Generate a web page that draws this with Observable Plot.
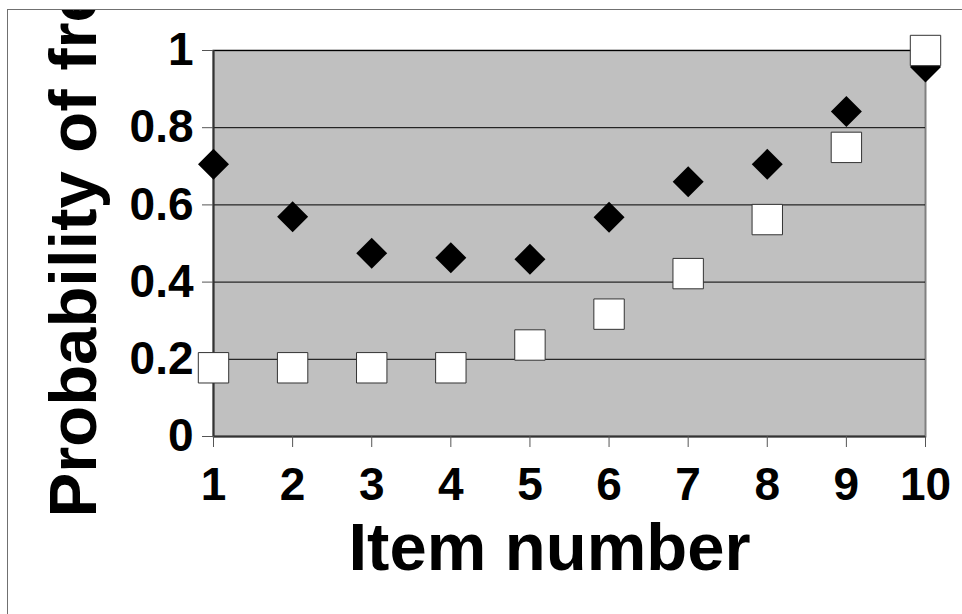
<!DOCTYPE html>
<html>
<head>
<meta charset="utf-8">
<script src="https://cdn.jsdelivr.net/npm/d3@7"></script>
<script src="https://cdn.jsdelivr.net/npm/@observablehq/plot@0.6"></script>
<style>
  html, body { margin: 0; padding: 0; background: #fff; overflow: hidden; width: 962px; height: 614px; }
  #frame { position: absolute; left: 7px; top: 9px; width: 1000px; height: 700px;
           border-top: 1px solid #707070; border-left: 1px solid #707070; overflow: hidden; }
  #frame svg { display: block; }
</style>
</head>
<body>
<div id="frame"></div>
<script>
// ---- data ----
const items = [1, 2, 3, 4, 5, 6, 7, 8, 9, 10];
const seriesDiamond = [0.705, 0.569, 0.475, 0.463, 0.459, 0.568, 0.660, 0.705, 0.842, 0.957];
const seriesSquare  = [0.178, 0.178, 0.178, 0.178, 0.237, 0.317, 0.422, 0.562, 0.749, 1.0];
const xTicks = [1, 2, 3, 4, 5, 6, 7, 8, 9, 10];
const yTicks = [0, 0.2, 0.4, 0.6, 0.8, 1];
const gridTicks = [0.2, 0.4, 0.6, 0.8, 1];
const xTitle = "Item number";
const yTitle = "Probability of free recall";

const diamondData = items.map((d, i) => ({item: d, value: seriesDiamond[i]}));
const squareData = items.map((d, i) => ({item: d, value: seriesSquare[i]}));

// custom symbols: r = half-diagonal (diamond) / half-side (square)
const diamondSymbol = {
  draw(ctx, size) {
    const r = Math.sqrt(size / Math.PI);
    ctx.moveTo(0, -r); ctx.lineTo(r, 0); ctx.lineTo(0, r); ctx.lineTo(-r, 0); ctx.closePath();
  }
};
const squareSymbol = {
  draw(ctx, size) {
    const r = Math.sqrt(size / Math.PI);
    ctx.rect(-r, -r, 2 * r, 2 * r);
  }
};

const font = "'Liberation Sans', Arial, Helvetica, sans-serif";

const chart = Plot.plot({
  width: 954,
  height: 604,
  marginLeft: 205,
  marginRight: 37,
  marginTop: 40,
  marginBottom: 178,
  style: {fontFamily: font, fontWeight: "bold", fontSize: "46px", background: "transparent", color: "black"},
  x: {type: "linear", domain: [1, 10], label: null, axis: null},
  y: {domain: [0, 1], label: null, axis: null},
  marks: [
    Plot.frame({fill: "#c0c0c0", stroke: "#808080", strokeWidth: 2}),
    Plot.ruleY(gridTicks, {stroke: "black", strokeWidth: 1}),
    Plot.ruleY([0], {stroke: "#333", strokeWidth: 2}),
    Plot.ruleX([xTicks[0]], {stroke: "#333", strokeWidth: 2}),
    Plot.axisY({ticks: yTicks, tickSize: 11, tickPadding: 9, tickFormat: d => String(d),
                fontSize: 46, fontWeight: "bold", stroke: "#555", fill: "black", label: null}),
    Plot.axisX({ticks: xTicks, tickSize: 11, tickPadding: 20, tickFormat: d => String(d),
                fontSize: 46, fontWeight: "bold", stroke: "#555", fill: "black", label: null}),
    Plot.dot(diamondData, {x: "item", y: "value", symbol: diamondSymbol, r: 15.5, fill: "black", stroke: "none"}),
    Plot.dot(squareData, {x: "item", y: "value", symbol: squareSymbol, r: 15.2, fill: "white", stroke: "#333", strokeWidth: 1}),
    Plot.text([xTitle], {frameAnchor: "bottom", text: d => d, fontSize: 67, fontWeight: "bold",
                         fill: "black", textAnchor: "middle", lineAnchor: "bottom", dx: -20, dy: 133}),
    Plot.text([yTitle], {frameAnchor: "bottom-left", text: d => d, fontSize: 67, fontWeight: "bold",
                         fill: "black", rotate: -90, textAnchor: "start", lineAnchor: "bottom", dx: -118, dy: 81})
  ]
});
document.getElementById("frame").appendChild(chart);
</script>
</body>
</html>
